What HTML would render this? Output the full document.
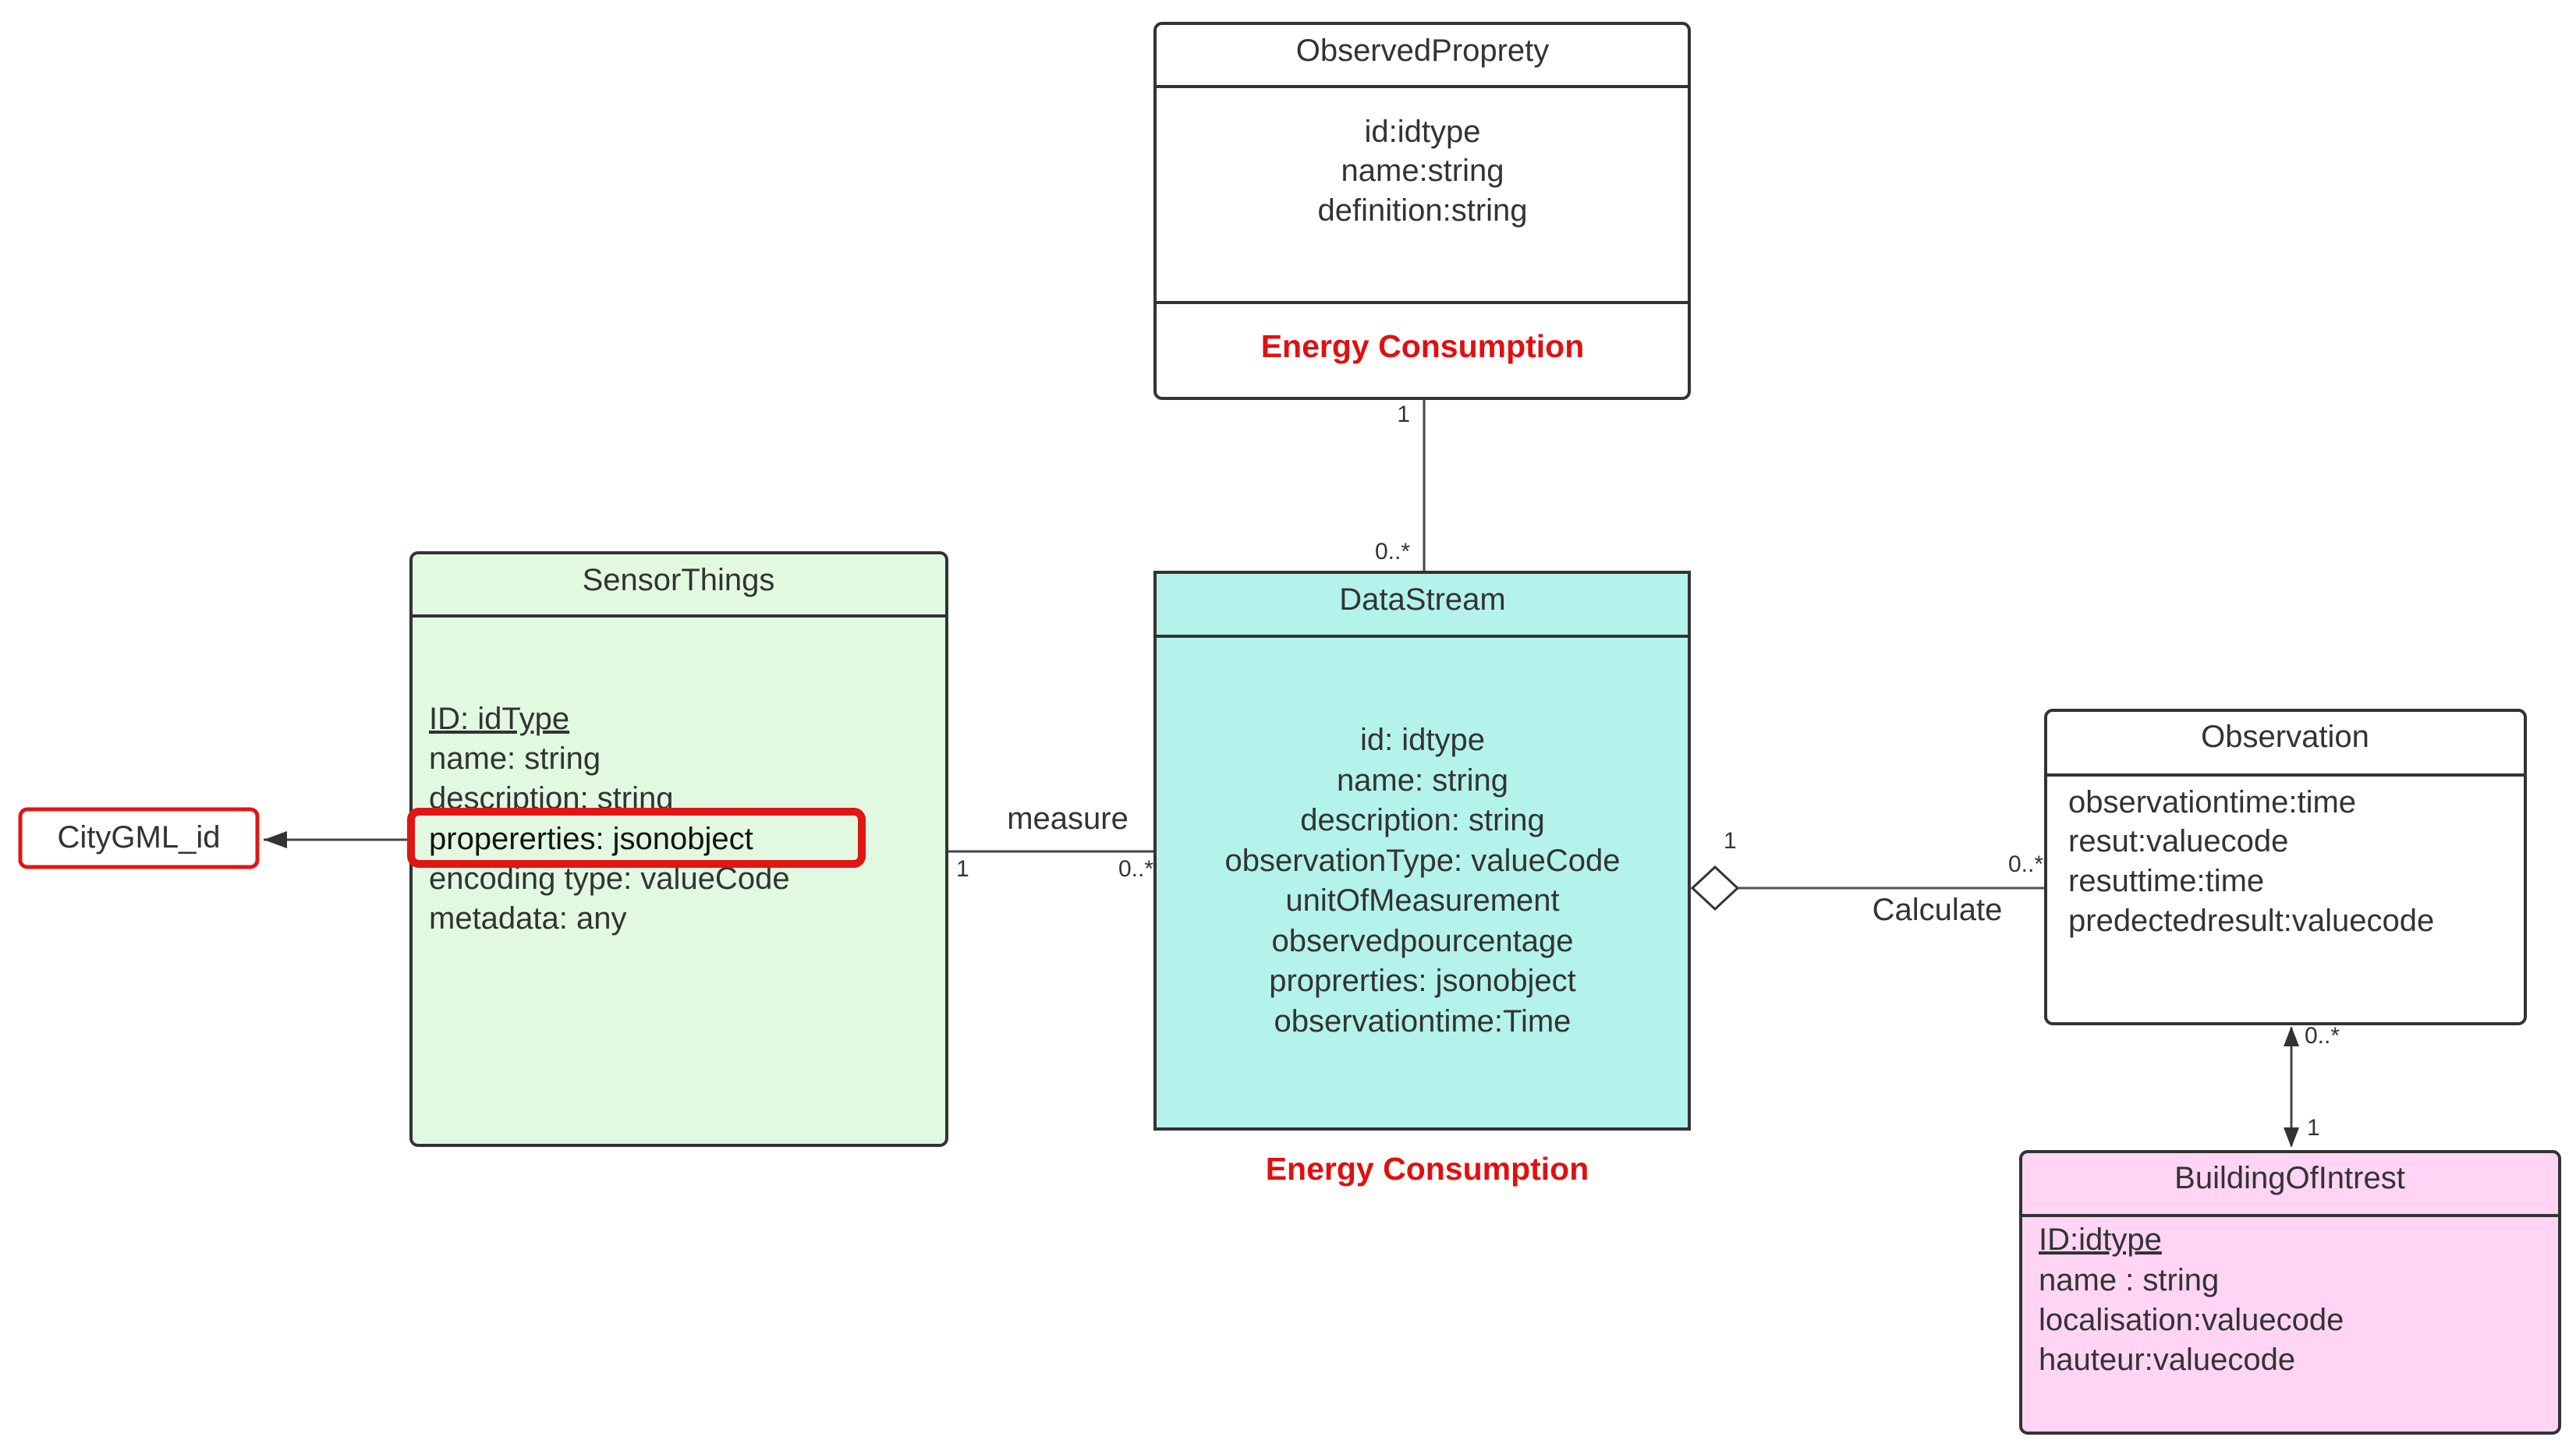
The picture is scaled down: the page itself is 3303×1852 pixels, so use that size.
<!DOCTYPE html>
<html><head><meta charset="utf-8"><style>
html,body{margin:0;padding:0;background:#fff;}
svg{display:block;}
text{font-family:"Liberation Sans",Arial,sans-serif;fill:#333;}
</style></head><body>
<svg width="3303" height="1852" viewBox="0 0 3303 1852" xmlns="http://www.w3.org/2000/svg">
<!-- connectors -->
<line x1="1826" y1="512" x2="1826" y2="733" stroke="#444" stroke-width="3"/>
<text x="1808" y="541" font-size="30" text-anchor="end">1</text>
<text x="1808" y="717" font-size="30" text-anchor="end">0..*</text>

<line x1="1213" y1="1092" x2="1481" y2="1092" stroke="#444" stroke-width="3"/>
<text x="1369" y="1063" font-size="40" text-anchor="middle">measure</text>
<text x="1226" y="1124" font-size="30">1</text>
<text x="1479" y="1124" font-size="30" text-anchor="end">0..*</text>

<line x1="338" y1="1077" x2="527" y2="1077" stroke="#444" stroke-width="3"/>
<polygon points="338,1077 368,1066 368,1088" fill="#333"/>

<line x1="2228" y1="1139" x2="2623" y2="1139" stroke="#555" stroke-width="3"/>
<polygon points="2170,1139 2199,1112 2228,1139 2199,1166" fill="#fff" stroke="#333" stroke-width="3"/>
<text x="2210" y="1088" font-size="30">1</text>
<text x="2620" y="1118" font-size="30" text-anchor="end">0..*</text>
<text x="2484" y="1180" font-size="40" text-anchor="middle">Calculate</text>

<line x1="2938" y1="1318" x2="2938" y2="1470" stroke="#444" stroke-width="3"/>
<polygon points="2938,1316 2928,1342 2948,1342" fill="#333"/>
<polygon points="2938,1472 2928,1446 2948,1446" fill="#333"/>
<text x="2955" y="1338" font-size="30">0..*</text>
<text x="2958" y="1456" font-size="30">1</text>

<!-- ObservedPropety -->
<rect x="1481" y="30" width="685" height="481" rx="9" fill="#fff" stroke="#333" stroke-width="4"/>
<line x1="1481" y1="111" x2="2166" y2="111" stroke="#333" stroke-width="4"/>
<line x1="1481" y1="388" x2="2166" y2="388" stroke="#333" stroke-width="4"/>
<text x="1824" y="78" font-size="40" text-anchor="middle">ObservedProprety</text>
<text x="1824" y="182" font-size="40" text-anchor="middle">id:idtype</text>
<text x="1824" y="232" font-size="40" text-anchor="middle">name:string</text>
<text x="1824" y="283" font-size="40" text-anchor="middle">definition:string</text>
<text x="1824" y="458" font-size="41" font-weight="bold" text-anchor="middle" style="fill:#e01010">Energy Consumption</text>

<!-- DataStream -->
<rect x="1481" y="734" width="685" height="714" fill="#b4f3eb" stroke="#333" stroke-width="4"/>
<line x1="1481" y1="816" x2="2166" y2="816" stroke="#333" stroke-width="4"/>
<text x="1824" y="782" font-size="40" text-anchor="middle">DataStream</text>
<g font-size="40" text-anchor="middle">
<text x="1824" y="962">id: idtype</text>
<text x="1824" y="1014">name: string</text>
<text x="1824" y="1065">description: string</text>
<text x="1824" y="1117">observationType: valueCode</text>
<text x="1824" y="1168">unitOfMeasurement</text>
<text x="1824" y="1220">observedpourcentage</text>
<text x="1824" y="1271">proprerties: jsonobject</text>
<text x="1824" y="1323">observationtime:Time</text>
</g>
<text x="1830" y="1513" font-size="41" font-weight="bold" text-anchor="middle" style="fill:#e01010">Energy Consumption</text>

<!-- SensorThings -->
<rect x="527" y="709" width="687" height="760" rx="9" fill="#e1f9e1" stroke="#333" stroke-width="4"/>
<line x1="527" y1="790" x2="1214" y2="790" stroke="#333" stroke-width="4"/>
<text x="870" y="757" font-size="40" text-anchor="middle">SensorThings</text>
<g font-size="40">
<text x="550" y="935" text-decoration="underline">ID: idType</text>
<text x="550" y="986">name: string</text>
<text x="550" y="1037">description: string</text>
<text x="550" y="1089" style="fill:#111">propererties: jsonobject</text>
<text x="550" y="1140">encoding type: valueCode</text>
<text x="550" y="1191">metadata: any</text>
</g>
<rect x="527" y="1041" width="578" height="67" rx="10" fill="none" stroke="#e21515" stroke-width="10"/>

<!-- CityGML_id -->
<rect x="26" y="1038" width="304" height="74" rx="9" fill="#fff" stroke="#e21515" stroke-width="5"/>
<text x="178" y="1087" font-size="40" text-anchor="middle">CityGML_id</text>

<!-- Observation -->
<rect x="2623" y="911" width="615" height="402" rx="9" fill="#fff" stroke="#333" stroke-width="4"/>
<line x1="2623" y1="994" x2="3238" y2="994" stroke="#333" stroke-width="4"/>
<text x="2930" y="958" font-size="40" text-anchor="middle">Observation</text>
<g font-size="40">
<text x="2652" y="1042">observationtime:time</text>
<text x="2652" y="1092">resut:valuecode</text>
<text x="2652" y="1143">resuttime:time</text>
<text x="2652" y="1194">predectedresult:valuecode</text>
</g>

<!-- BuildingOfIntrest -->
<rect x="2591" y="1477" width="691" height="361" rx="9" fill="#ffd4f4" stroke="#333" stroke-width="4"/>
<line x1="2591" y1="1559" x2="3282" y2="1559" stroke="#333" stroke-width="4"/>
<text x="2936" y="1524" font-size="40" text-anchor="middle">BuildingOfIntrest</text>
<g font-size="40">
<text x="2614" y="1603" text-decoration="underline">ID:idtype</text>
<text x="2614" y="1655">name : string</text>
<text x="2614" y="1706">localisation:valuecode</text>
<text x="2614" y="1757">hauteur:valuecode</text>
</g>
</svg>
</body></html>
